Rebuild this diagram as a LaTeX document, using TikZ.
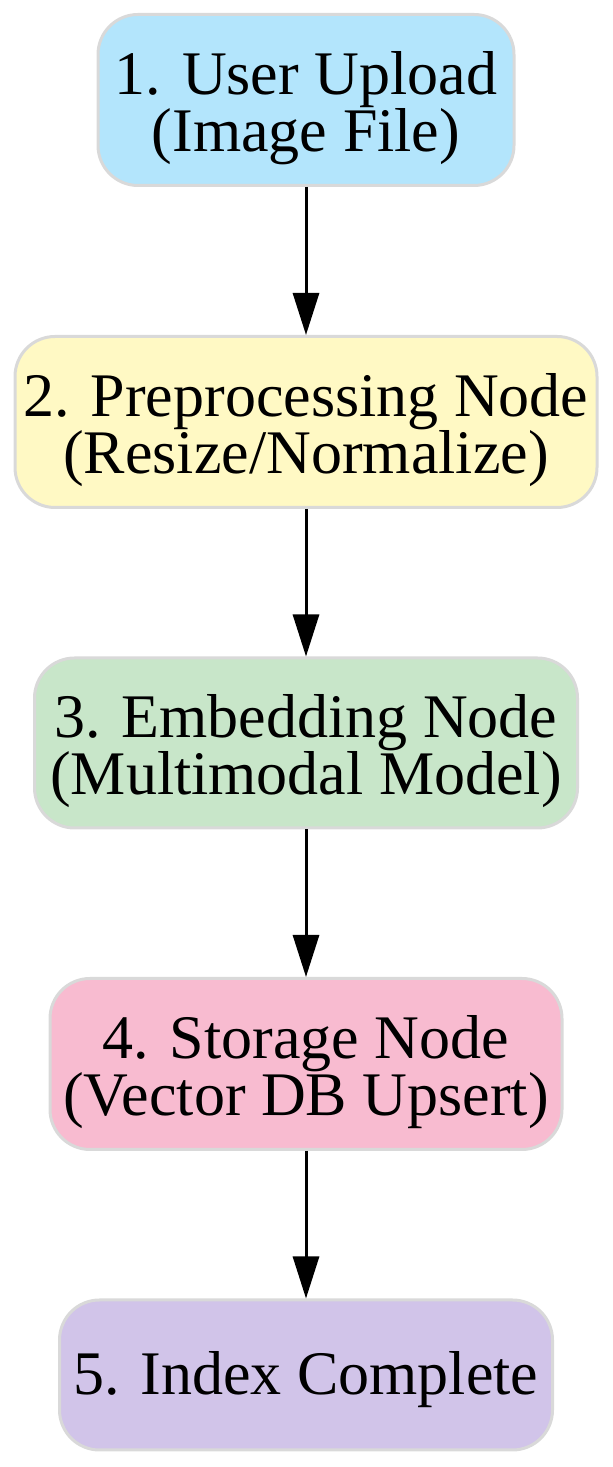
\documentclass[tikz,border=0pt]{standalone}
\usepackage{fontspec}
\setmainfont{Liberation Serif}
\usetikzlibrary{arrows.meta}
\begin{document}
\begin{tikzpicture}[x=1pt,y=1pt,
  box/.style={draw=black!15,line width=3pt,rounded corners=40pt,inner sep=0pt},
  arr/.style={line width=3pt,-{Triangle[length=42pt,width=26pt]}}]
\useasboundingbox (0,0) rectangle (613,1467);
\node[box,fill={rgb,255:red,179;green,229;blue,252},minimum width=416pt,minimum height=171pt] (n1) at (306,1367) {};
\node[box,fill={rgb,255:red,255;green,249;blue,196},minimum width=582pt,minimum height=171pt] (n2) at (306,1045) {};
\node[box,fill={rgb,255:red,200;green,230;blue,201},minimum width=543pt,minimum height=170pt] (n3) at (306,724) {};
\node[box,fill={rgb,255:red,248;green,187;blue,208},minimum width=512pt,minimum height=171pt] (n4) at (306,403) {};
\node[box,fill={rgb,255:red,209;green,196;blue,233},minimum width=493pt,minimum height=150pt] (n5) at (306,92) {};
\tikzset{lbl/.style={font=\fontsize{62}{70}\selectfont,inner sep=0pt,anchor=base}}
\node[lbl] (t1a) at ([yshift=5pt]n1.center) {1. User Upload};
\node[lbl] (t1b) at ([yshift=-52pt]n1.center) {(Image File)};
\node[lbl] (t2a) at ([yshift=5pt]n2.center) {2. Preprocessing Node};
\node[lbl] (t2b) at ([yshift=-52pt]n2.center) {(Resize/Normalize)};
\node[lbl] (t3a) at ([yshift=5pt]n3.center) {3. Embedding Node};
\node[lbl] (t3b) at ([yshift=-52pt]n3.center) {(Multimodal Model)};
\node[lbl] (t4a) at ([yshift=5pt]n4.center) {4. Storage Node};
\node[lbl] (t4b) at ([yshift=-52pt]n4.center) {(Vector DB Upsert)};
\node[lbl] (t5) at ([yshift=-20pt]n5.center) {5. Index Complete};
\draw[arr] (n1.south) -- (n2.north);
\draw[arr] (n2.south) -- (n3.north);
\draw[arr] (n3.south) -- (n4.north);
\draw[arr] (n4.south) -- (n5.north);
\end{tikzpicture}
\end{document}
